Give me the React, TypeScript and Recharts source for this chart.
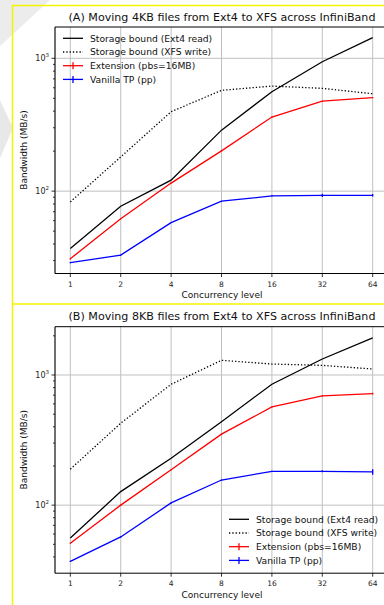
import React from 'react'
import {
  LineChart, Line, XAxis, YAxis, CartesianGrid, ReferenceLine, ErrorBar,
} from 'recharts'

// concurrency levels on the x axis (log2 spaced)
const CONC = [1, 2, 4, 8, 16, 32, 64]
const X_DOMAIN = [0.81, 79]

// (A) 4KB files
const A_EXT4 = [37, 77, 121, 288, 560, 942, 1429]
const A_XFS = [83, 181, 396, 574, 618, 594, 541]
const A_EXT = [31, 62, 115, 201, 361, 476, 505]
const A_EXT_ERR = [0.4, 0.6, 1, 2, 3, 4, 5]
const A_VAN = [29, 33, 58, 84, 92, 93, 93]
const A_VAN_ERR = [0.3, 0.3, 0.5, 0.6, 1, 2.5, 2]
const A_Y_DOMAIN = [24, 1720]

// (B) 8KB files
const B_EXT4 = [56, 127, 229, 438, 849, 1327, 1931]
const B_XFS = [189, 426, 849, 1297, 1214, 1186, 1111]
const B_EXT = [51, 100, 187, 351, 568, 690, 719]
const B_EXT_ERR = [0.5, 1, 2, 3, 5, 6, 12]
const B_VAN = [37, 57, 104, 156, 182, 182, 180]
const B_VAN_ERR = [0.4, 0.6, 1, 1.5, 2, 3, 9]
const B_Y_DOMAIN = [30, 2350]

const Y_MAJOR = [100, 1000]
const A_Y_TICKS = [30, 40, 50, 60, 70, 80, 90, 100, 200, 300, 400, 500, 600, 700, 800, 900, 1000]
const B_Y_TICKS = [40, 50, 60, 70, 80, 90, 100, 200, 300, 400, 500, 600, 700, 800, 900, 1000, 2000]

const SERIES = [
  { key: 'ext4', name: 'Storage bound (Ext4 read)', color: '#000000', dash: undefined, err: false },
  { key: 'xfs', name: 'Storage bound (XFS write)', color: '#000000', dash: '1.3 2', err: false },
  { key: 'ext', name: 'Extension (pbs=16MB)', color: '#ff0000', dash: undefined, err: true },
  { key: 'van', name: 'Vanilla TP (pp)', color: '#0000ff', dash: undefined, err: true },
]

const FONT = '"DejaVu Sans", sans-serif'

const YTick = (props: any) => {
  const { x, y, payload } = props
  const v = payload.value
  const major = Y_MAJOR.includes(v)
  return (
    <g>
      <line x1={x} x2={x - (major ? 3.5 : 2)} y1={y} y2={y} stroke="#000" strokeWidth={0.8} />
      {major && (
        <text x={x - 6} y={y + 3} textAnchor="end" fontSize={8} fill="#222" fontFamily={FONT}>
          10<tspan dy={-4} fontSize={5.5}>{Math.round(Math.log10(v))}</tspan>
        </text>
      )}
    </g>
  )
}

const XTick = (props: any) => {
  const { x, y, payload } = props
  return (
    <g>
      <line x1={x} x2={x} y1={y} y2={y + 3.5} stroke="#000" strokeWidth={0.8} />
      <text x={x} y={y + 13} textAnchor="middle" fontSize={7.5} fill="#222" fontFamily={FONT}>
        {payload.value}
      </text>
    </g>
  )
}

const LegendBox = ({ left, top }: { left: number; top: number }) => (
  <g transform={`translate(${left}, ${top})`}>
    {SERIES.map((s, i) => {
      const cy = i * 13.7
      return (
        <g key={s.key}>
          <line x1={0} x2={20} y1={cy} y2={cy} stroke={s.color} strokeWidth={1.3} strokeDasharray={s.dash} />
          {s.err && <line x1={10} x2={10} y1={cy - 3.5} y2={cy + 3.5} stroke={s.color} strokeWidth={1.3} />}
          <text x={27} y={cy + 3.3} fontSize={9.2} fill="#111" fontFamily={FONT}>{s.name}</text>
        </g>
      )
    })}
  </g>
)

interface PanelProps {
  top: number
  title: string
  ext4: number[]
  xfs: number[]
  ext: number[]
  extErr: number[]
  van: number[]
  vanErr: number[]
  yDomain: number[]
  yTicks: number[]
  plotTop: number
  legendPos: { left: number; top: number }
}

function Panel(p: PanelProps) {
  const data = CONC.map((c, i) => ({
    c,
    ext4: p.ext4[i],
    xfs: p.xfs[i],
    ext: p.ext[i],
    extErr: p.extErr[i],
    van: p.van[i],
    vanErr: p.vanErr[i],
  }))
  const xAxisH = 305 - (p.plotTop + 246.5)
  return (
    <div style={{ position: 'absolute', left: 0, top: p.top, width: 400, height: 305 }}>
      <LineChart width={400} height={305} data={data} margin={{ top: p.plotTop, right: 12, left: 0, bottom: 0 }}>
        <CartesianGrid horizontal={false} stroke="#c0c0c0" strokeWidth={1} />
        <ReferenceLine y={Y_MAJOR[0]} stroke="#c0c0c0" strokeWidth={1} />
        <ReferenceLine y={Y_MAJOR[1]} stroke="#c0c0c0" strokeWidth={1} />
        <ReferenceLine y={p.yDomain[1]} stroke="#000" strokeWidth={1} />
        <XAxis
          dataKey="c" type="number" scale="log" domain={X_DOMAIN} ticks={CONC} allowDataOverflow
          height={xAxisH} tickSize={0} tickMargin={0} tickLine={false} tick={<XTick />}
          axisLine={{ stroke: '#000', strokeWidth: 1 }} interval={0}
        />
        <YAxis
          type="number" scale="log" domain={p.yDomain} ticks={p.yTicks} allowDataOverflow
          width={55} tickSize={0} tickMargin={0} tickLine={false} tick={<YTick />}
          axisLine={{ stroke: '#000', strokeWidth: 1 }} interval={0}
        />
        <Line dataKey="ext4" stroke="#000" strokeWidth={1.3} dot={false} isAnimationActive={false} />
        <Line dataKey="xfs" stroke="#000" strokeWidth={1.3} strokeDasharray="1.3 2" dot={false} isAnimationActive={false} />
        <Line dataKey="ext" stroke="#ff0000" strokeWidth={1.3} dot={false} isAnimationActive={false}>
          <ErrorBar dataKey="extErr" width={0} stroke="#ff0000" strokeWidth={1.3} direction="y" isAnimationActive={false} />
        </Line>
        <Line dataKey="van" stroke="#0000ff" strokeWidth={1.3} dot={false} isAnimationActive={false}>
          <ErrorBar dataKey="vanErr" width={0} stroke="#0000ff" strokeWidth={1.3} direction="y" isAnimationActive={false} />
        </Line>
      </LineChart>
      <svg style={{ position: 'absolute', left: 0, top: 0, pointerEvents: 'none' }} width={400} height={305}>
        <text x={222} y={p.plotTop - 6.3} textAnchor="middle" fontSize={11.1} fill="#111" fontFamily={FONT}>{p.title}</text>
        <text
          transform={`translate(27, ${p.plotTop + 123}) rotate(-90)`}
          textAnchor="middle" fontSize={9} fill="#111" fontFamily={FONT}
        >Bandwidth (MB/s)</text>
        <text x={222} y={298} textAnchor="middle" fontSize={9} fill="#111" fontFamily={FONT}>Concurrency level</text>
        <LegendBox left={p.legendPos.left} top={p.legendPos.top} />
      </svg>
    </div>
  )
}

export default function App() {
  return (
    <div style={{ position: 'absolute', left: 0, top: 0, width: 384, height: 605, overflow: 'hidden', background: '#fff' }}>
      <svg style={{ position: 'absolute', left: 0, top: 0 }} width={384} height={605}>
        <polygon points="0,0 50,0 0,46" fill="#ececec" />
        <polygon points="0,100 13,128 0,158" fill="#e8e8e8" />
      </svg>
      <Panel
        top={0} title="(A) Moving 4KB files from Ext4 to XFS across InfiniBand"
        ext4={A_EXT4} xfs={A_XFS} ext={A_EXT} extErr={A_EXT_ERR} van={A_VAN} vanErr={A_VAN_ERR}
        yDomain={A_Y_DOMAIN} yTicks={A_Y_TICKS} plotTop={27} legendPos={{ left: 63, top: 38.3 }}
      />
      <Panel
        top={300} title="(B) Moving 8KB files from Ext4 to XFS across InfiniBand"
        ext4={B_EXT4} xfs={B_XFS} ext={B_EXT} extErr={B_EXT_ERR} van={B_VAN} vanErr={B_VAN_ERR}
        yDomain={B_Y_DOMAIN} yTicks={B_Y_TICKS} plotTop={26.7} legendPos={{ left: 229, top: 219.3 }}
      />
      <svg style={{ position: 'absolute', left: 0, top: 0, pointerEvents: 'none' }} width={384} height={605}>
        <line x1={12.5} x2={12.5} y1={5} y2={605} stroke="#f4f400" strokeWidth={1.5} />
        <line x1={12} x2={384} y1={5.5} y2={5.5} stroke="#f4f400" strokeWidth={1.5} />
        <line x1={12} x2={384} y1={304} y2={304} stroke="#f4f400" strokeWidth={1.5} />
      </svg>
    </div>
  )
}
